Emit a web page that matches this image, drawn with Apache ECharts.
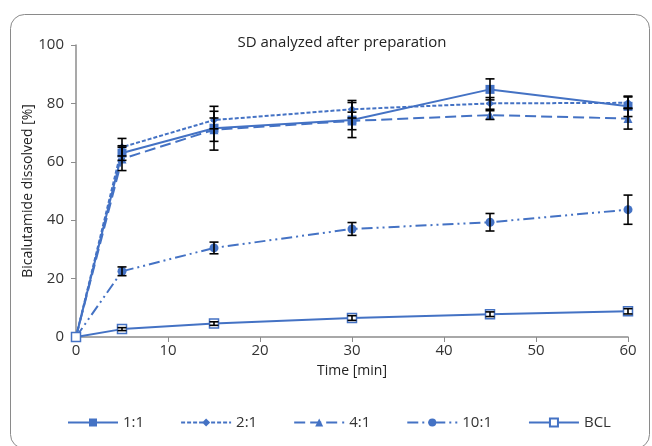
<!DOCTYPE html>
<html><head><meta charset="utf-8">
<script src="https://cdn.jsdelivr.net/npm/echarts@6/dist/echarts.min.js"></script>
<style>html,body{margin:0;padding:0;background:#fff}#c{width:652px;height:446px}</style>
</head><body><div id="c"></div>
<script>
const times = [0, 5, 15, 30, 45, 60];
const names = ['1:1', '2:1', '4:1', '10:1', 'BCL'];
const v11 = [0, 63, 71.5, 74.3, 84.8, 79];
const v21 = [0, 65, 74.3, 78, 80, 80.2];
const v41 = [0, 61, 71, 74, 76, 74.8];
const v101 = [0, 22.5, 30.5, 37, 39.3, 43.6];
const vBCL = [0, 2.7, 4.6, 6.5, 7.8, 8.8];
const e11 = [0, 2.5, 7.5, 6, 3.6, 3.5];
const e21 = [0, 3, 3, 3, 2, 2];
const e41 = [0, 4, 4, 3, 1.5, 3.6];
const e101 = [0, 1.5, 2, 2.2, 3, 5];
const eBCL = [0, 0.5, 0.6, 0.8, 0.8, 0.9];
const xTicks = [0, 10, 20, 30, 40, 50, 60];
const yTicks = [0, 20, 40, 60, 80, 100];

const blue = '#4472c4';
const FONT = 'Open Sans';
const vals = [v11, v21, v41, v101, vBCL];
const errs = [e11, e21, e41, e101, eBCL];
const symbols = ['rect', 'diamond', 'triangle', 'circle', 'emptyRect'];
const symSizes = [9, 8, 9, 9, 9];
const dashes = ['solid', [4, 2], [11, 5], [11, 4, 2, 4, 2, 4], 'solid'];

const series = [];
names.forEach((n, i) => {
  series.push({
    name: n, type: 'line',
    data: times.map((t, k) => [t, vals[i][k]]),
    symbol: symbols[i] === 'emptyRect' ? 'rect' : symbols[i],
    symbolSize: symSizes[i],
    lineStyle: { color: blue, width: 2, type: dashes[i] },
    itemStyle: symbols[i] === 'emptyRect'
      ? { color: '#fff', borderColor: blue, borderWidth: 1.5 }
      : { color: blue, borderColor: blue, borderWidth: 0 },
    z: 3
  });
});
names.forEach((n, i) => {
  series.push({
    type: 'custom',
    data: times.map((t, k) => [t, vals[i][k] - errs[i][k], vals[i][k] + errs[i][k]]).filter((d, k) => errs[i][k] > 0),
    renderItem: function (params, api) {
      const x = api.value(0);
      const lo = api.coord([x, api.value(1)]);
      const hi = api.coord([x, api.value(2)]);
      const w = 4.5;
      const st = { stroke: '#000', lineWidth: 1.6 };
      return { type: 'group', children: [
        { type: 'line', shape: { x1: lo[0], y1: lo[1], x2: hi[0], y2: hi[1] }, style: st },
        { type: 'line', shape: { x1: lo[0] - w, y1: lo[1], x2: lo[0] + w, y2: lo[1] }, style: st },
        { type: 'line', shape: { x1: hi[0] - w, y1: hi[1], x2: hi[0] + w, y2: hi[1] }, style: st }
      ]};
    },
    z: 4, silent: true
  });
});

const chart = echarts.init(document.getElementById('c'));
chart.setOption({
  animation: false,
  backgroundColor: '#fff',
  textStyle: { fontFamily: FONT },
  graphic: [{ type: 'rect', shape: { x: 10.5, y: 14.5, width: 639, height: 434, r: 14 },
    style: { fill: 'none', stroke: '#8a8a8a', lineWidth: 1 }, z: -1 }],
  title: { text: 'SD analyzed after preparation', left: 337, top: 30, textAlign: 'center',
    textStyle: { fontFamily: FONT, fontSize: 15, fontWeight: 'normal', color: '#222' } },
  grid: { left: 76, right: 24, top: 45, bottom: 109 },
  xAxis: {
    type: 'value', min: 0, max: 60, interval: 10,
    name: 'Time [min]', nameLocation: 'middle', nameGap: 27, nameMoveOverlap: false,
    nameTextStyle: { fontFamily: FONT, fontSize: 14, color: '#222' },
    axisLine: { lineStyle: { color: '#8c8c8c', width: 1.5 } },
    axisTick: { show: true, inside: false, length: 5, lineStyle: { color: '#8c8c8c' } },
    axisLabel: { fontFamily: FONT, fontSize: 15, color: '#333', margin: 6 },
    splitLine: { show: false }
  },
  yAxis: {
    type: 'value', min: 0, max: 100, interval: 20,
    name: 'Bicalutamide dissolved [%]', nameLocation: 'middle', nameGap: 41, nameMoveOverlap: false,
    nameTextStyle: { fontFamily: FONT, fontSize: 14, color: '#222' },
    axisLine: { show: true, lineStyle: { color: '#8c8c8c', width: 1.5 } },
    axisTick: { show: true, inside: false, length: 5, lineStyle: { color: '#8c8c8c' } },
    axisLabel: { fontFamily: FONT, fontSize: 15, color: '#333', margin: 12 },
    splitLine: { show: false }
  },
  legend: {
    data: names, top: 410, left: 62, itemWidth: 50, itemHeight: 10, itemGap: 36,
    textStyle: { fontFamily: FONT, fontSize: 15, color: '#333' }
  },
  series: series
});
</script></body></html>
